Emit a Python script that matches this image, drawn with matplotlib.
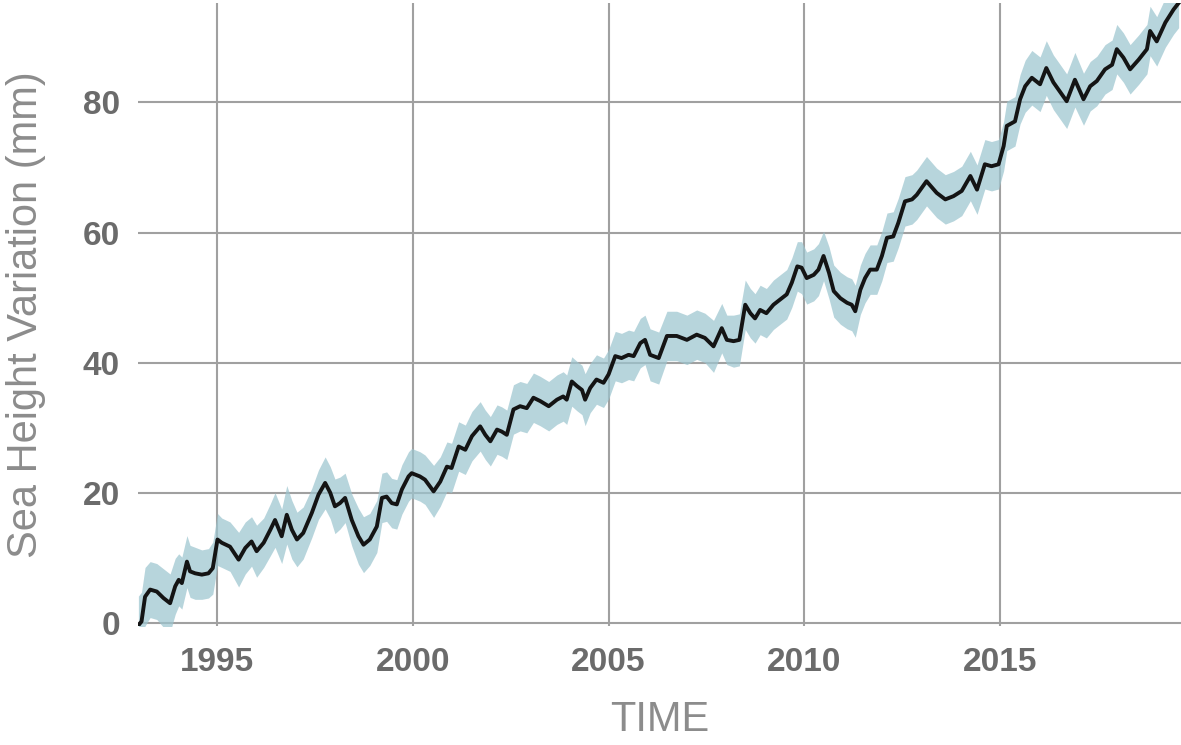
import numpy as np
import matplotlib
matplotlib.use('Agg')
import matplotlib.pyplot as plt

# global mean sea level (mm, vs. decimal year)
years = [
    1992.99, 1993.07, 1993.16, 1993.29, 1993.46, 1993.63, 1993.80, 1993.93, 1994.02, 1994.10,
    1994.23, 1994.31, 1994.44, 1994.61, 1994.78, 1994.89, 1995.01, 1995.12, 1995.33, 1995.55,
    1995.72, 1995.88, 1996.01, 1996.19, 1996.36, 1996.48, 1996.65, 1996.78, 1996.91, 1997.04,
    1997.20, 1997.42, 1997.59, 1997.76, 1997.89, 1998.01, 1998.14, 1998.27, 1998.44, 1998.61,
    1998.74, 1998.90, 1999.08, 1999.21, 1999.33, 1999.46, 1999.59, 1999.72, 1999.89,
    1999.97, 2000.18, 2000.31, 2000.53, 2000.70, 2000.87, 2000.99, 2001.17, 2001.34, 2001.51,
    2001.72, 2001.85, 2001.98, 2002.15, 2002.27, 2002.40, 2002.57, 2002.74, 2002.91, 2003.08,
    2003.25, 2003.47, 2003.68, 2003.84, 2003.93, 2004.06, 2004.19, 2004.32, 2004.40, 2004.53,
    2004.69, 2004.87, 2005.00, 2005.17, 2005.33, 2005.51, 2005.64, 2005.81, 2005.93, 2006.06,
    2006.28, 2006.49,
    2006.74, 2007.00, 2007.25, 2007.46, 2007.68, 2007.89, 2008.02, 2008.19, 2008.34, 2008.49,
    2008.62, 2008.74, 2008.87, 2009.03, 2009.21, 2009.38, 2009.55, 2009.68, 2009.82, 2009.93,
    2010.06, 2010.24, 2010.36, 2010.49, 2010.63, 2010.75, 2010.92, 2011.09, 2011.21, 2011.30,
    2011.43, 2011.55, 2011.68, 2011.85, 2011.98, 2012.11, 2012.27, 2012.40, 2012.57, 2012.75,
    2012.87, 2013.12,
    2013.38, 2013.60, 2013.81, 2014.02, 2014.24, 2014.41, 2014.61, 2014.78, 2014.96, 2015.09,
    2015.17, 2015.38, 2015.51, 2015.64, 2015.81, 2016.02, 2016.18, 2016.36, 2016.49, 2016.70,
    2016.91, 2017.13, 2017.30, 2017.47, 2017.68, 2017.86, 2017.98, 2018.15, 2018.32, 2018.54,
    2018.75, 2018.83, 2019.00, 2019.22, 2019.43, 2019.56,
]

sea_mm = [
    -0.4, 0.2, 4.0, 5.1, 4.8, 3.8, 3.0, 5.6, 6.6, 6.1,
    9.4, 7.9, 7.6, 7.4, 7.6, 8.4, 12.8, 12.3, 11.7, 9.7,
    11.5, 12.5, 11.0, 12.3, 14.3, 15.8, 13.3, 16.6, 14.3, 12.8,
    13.8, 16.9, 19.7, 21.5, 20.0, 17.9, 18.4, 19.2, 15.8, 13.3,
    12.0, 12.8, 14.8, 19.2, 19.4, 18.4, 18.2, 20.5, 22.5,
    23.0, 22.5, 22.0, 20.2, 21.7, 24.0, 23.8, 27.1, 26.6, 28.7,
    30.2, 28.9, 27.9, 29.7, 29.4, 28.9, 32.8, 33.3, 33.0, 34.6,
    34.1, 33.3, 34.3, 34.8, 34.3, 37.1, 36.4, 35.8, 34.3, 36.1,
    37.4, 36.9, 38.2, 41.0, 40.7, 41.2, 41.0, 43.0, 43.5, 41.2,
    40.7, 44.1,
    44.1, 43.5, 44.3, 43.8, 42.5, 45.3, 43.5, 43.3, 43.5, 48.9,
    47.6, 46.8, 48.1, 47.6, 48.9, 49.7, 50.5, 52.3, 54.8, 54.6,
    53.0, 53.5, 54.3, 56.4, 53.8, 51.0, 49.9, 49.2, 48.9, 47.9,
    51.2, 53.0, 54.3, 54.3, 56.4, 59.2, 59.4, 61.5, 64.8, 65.1,
    65.8, 67.9,
    66.1, 65.1, 65.6, 66.4, 68.7, 66.6, 70.5, 70.2, 70.5, 73.3,
    76.4, 77.1, 80.5, 82.5, 83.8, 82.8, 85.3, 83.1, 82.0, 80.2,
    83.5, 80.5, 82.5, 83.3, 85.1, 85.8, 88.2, 86.9, 85.1, 86.6,
    88.2, 91.0, 89.4, 92.3, 94.3, 95.3,
]

# half width of the shaded uncertainty band (mm)
err_mm = [
    4.5, 4.5, 4.5, 4.3, 4.3, 4.5, 4.5, 4.3, 4.0, 4.0,
    4.0, 4.0, 4.0, 3.8, 3.8, 4.0, 4.0, 3.8, 3.8, 4.2,
    4.0, 3.8, 4.0, 3.8, 4.0, 4.2, 4.2, 4.5, 4.5, 4.2,
    4.0, 3.8, 3.8, 4.0, 4.0, 4.2, 4.0, 3.8, 4.0, 4.3,
    4.3, 4.0, 4.0, 3.8, 3.8, 3.8, 3.8, 3.8, 3.8,
    3.8, 3.8, 3.8, 4.0, 3.8, 3.8, 3.8, 3.8, 3.8, 3.8,
    3.8, 3.8, 3.8, 3.8, 3.8, 3.8, 3.8, 3.8, 3.8, 3.8,
    3.8, 3.8, 3.8, 3.8, 3.8, 3.8, 3.8, 3.8, 4.0, 3.8,
    3.8, 3.8, 3.8, 3.8, 3.8, 3.8, 3.8, 3.8, 3.8, 4.0,
    4.0, 3.8,
    3.8, 3.8, 3.8, 3.8, 4.0, 3.8, 3.8, 4.0, 4.0, 3.8,
    3.8, 3.8, 3.8, 3.8, 3.8, 3.8, 3.8, 3.8, 3.8, 4.0,
    4.0, 4.0, 4.0, 3.8, 4.0, 4.0, 4.0, 4.0, 4.0, 4.0,
    3.8, 3.8, 3.8, 3.8, 3.8, 3.8, 3.8, 3.8, 3.8, 3.8,
    3.8, 3.8,
    3.8, 3.8, 3.8, 3.8, 3.8, 3.8, 3.8, 3.8, 3.8, 3.8,
    3.8, 3.8, 3.8, 4.0, 4.2, 4.2, 4.2, 4.2, 4.2, 4.2,
    4.2, 4.0, 3.8, 3.8, 3.8, 3.8, 3.8, 3.8, 3.8, 3.8,
    3.8, 3.8, 3.8, 3.8, 3.8, 3.8,
]

x_ticks = [1995, 2000, 2005, 2010, 2015]
y_ticks = [0, 20, 40, 60, 80]

plt.rcParams['font.family'] = ['Liberation Sans', 'DejaVu Sans']

t = np.array(years)
sea = np.array(sea_mm)
err = np.array(err_mm)

W, H = 1181, 745
fig = plt.figure(figsize=(W / 100, H / 100), dpi=100)
ax = fig.add_axes([138 / W, 1 - 626 / H, 1 - 138 / W, 623 / H])

ax.fill_between(t, sea - err, sea + err, color='#9cc5cf', alpha=0.72, lw=0, zorder=2)
ax.plot(t, sea, color='#141414', lw=2.8, zorder=3, solid_joinstyle='round')

ax.set_xlim(1992.98, 2019.62)
ax.set_ylim(-0.5, 95.3)
ax.set_xticks(x_ticks)
ax.set_yticks(y_ticks)
ax.set_axisbelow(True)
ax.grid(True, color='#a0a0a0', lw=1.5)
for s in ax.spines.values():
    s.set_visible(False)

ax.tick_params(length=0, labelsize=24, labelcolor='#6b6b6b')
ax.tick_params(axis='x', pad=15)
ax.tick_params(axis='y', pad=13)
for lbl in ax.get_xticklabels() + ax.get_yticklabels():
    lbl.set_fontweight('bold')

ax.set_xlabel('TIME', fontsize=30, color='#8c8c8c')
ax.xaxis.set_label_coords(0.5, -0.119)
ax.set_ylabel('Sea Height Variation (mm)', fontsize=30, color='#8c8c8c')
ax.yaxis.set_label_coords(-0.088, 0.5)

fig.savefig('out.png', dpi=100)
